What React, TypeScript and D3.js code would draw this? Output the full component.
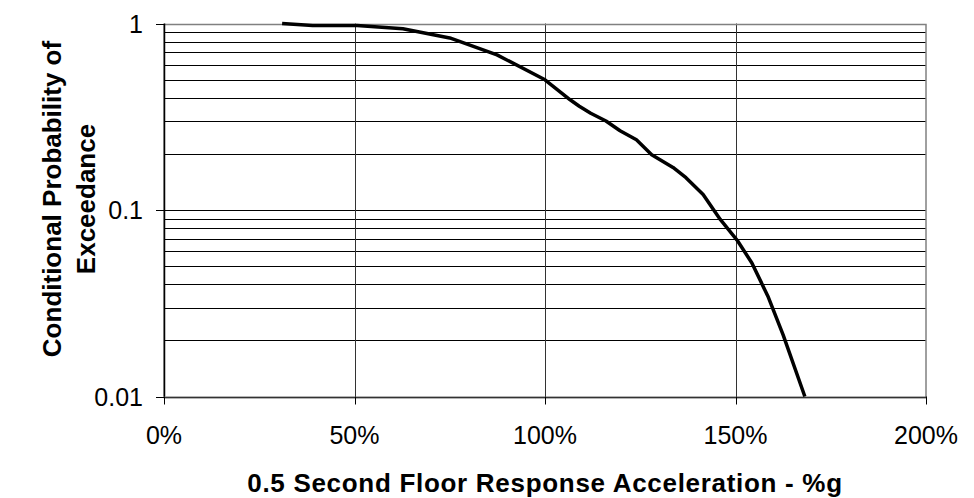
import React from "react";
import * as d3 from "d3";

const accelPct = [31, 39, 50.7, 62.7, 75, 87.4, 100, 106.6, 109, 112, 116, 119.7, 124, 128, 133.6, 137, 141.5, 146, 150.4, 154.3, 158.5, 162.5, 168.2];
const probExceed = [1.0, 0.976, 0.975, 0.938, 0.837, 0.679, 0.499, 0.39, 0.36, 0.33, 0.30, 0.266, 0.238, 0.198, 0.169, 0.149, 0.121, 0.089, 0.069, 0.052, 0.0345, 0.0214, 0.01];
const xTicks = [0, 50, 100, 150, 200];
const yTicks = [1, 0.1, 0.01];
const yTickLabels = ["1", "0.1", "0.01"];
const xTitle = "0.5 Second Floor Response Acceleration - %g";
const yTitleLines = ["Conditional Probability of", "Exceedance"];

const W = 974, H = 498;
const L = 164, R = 926, T = 23.5, B = 396.5;

export default function App() {
  const x = d3.scaleLinear().domain([0, 200]).range([L, R]);
  const y = d3.scaleLog().domain([0.01, 1]).range([B, T]);
  const minor: number[] = [];
  [0.01, 0.1].forEach((d) => {
    for (let k = 2; k <= 9; k++) minor.push(d * k);
  });
  const pts = accelPct.map((a, i) => [a, probExceed[i]] as [number, number]);
  const line = d3.line<[number, number]>().x((d) => x(d[0])).y((d) => y(d[1]));
  const font = "Liberation Sans, Arial, sans-serif";
  const r = (v: number) => Math.round(v) + 0.5;
  return (
    <svg width={W} height={H} style={{ position: "absolute", left: 0, top: 0, background: "#fff" }}>
      <rect x={0} y={0} width={W} height={H} fill="#fff" />
      {minor.map((m, i) => (
        <line key={"mi" + i} x1={L} x2={R} y1={r(y(m))} y2={r(y(m))} stroke="#000" strokeWidth={1} />
      ))}
      {yTicks.map((t, i) => (
        <line key={"my" + i} x1={L} x2={R} y1={r(y(t))} y2={r(y(t))} stroke="#000" strokeWidth={1} />
      ))}
      {xTicks.slice(1, -1).map((t, i) => (
        <line key={"gx" + i} x1={r(x(t))} x2={r(x(t))} y1={T} y2={B} stroke="#333" strokeWidth={1} />
      ))}
      <rect x={L} y={r(T)} width={R - L} height={B - T} fill="none" stroke="#808080" strokeWidth={1.5} />
      <line x1={r(L)} x2={r(L)} y1={T} y2={B} stroke="#000" strokeWidth={1.5} />
      <line x1={L} x2={R} y1={r(B)} y2={r(B)} stroke="#333" strokeWidth={1.5} />
      {yTicks.map((t, i) => (
        <line key={"ty" + i} x1={L - 8} x2={L} y1={r(y(t))} y2={r(y(t))} stroke="#000" />
      ))}
      {xTicks.map((t, i) => (
        <line key={"tx" + i} x1={r(x(t))} x2={r(x(t))} y1={B} y2={B + 8} stroke="#000" />
      ))}
      <path d={line(pts) || ""} fill="none" stroke="#000" strokeWidth={3.5} strokeLinejoin="round" />
      {yTicks.map((t, i) => (
        <text key={"ly" + i} x={L - 21} y={y(t) + 9} textAnchor="end" fontFamily={font} fontSize={25}>
          {yTickLabels[i]}
        </text>
      ))}
      {xTicks.map((t, i) => (
        <text key={"lx" + i} x={x(t)} y={444} textAnchor="middle" fontFamily={font} fontSize={25}>
          {t + "%"}
        </text>
      ))}
      <text x={545} y={492} textAnchor="middle" fontFamily={font} fontSize={26} fontWeight="bold" letterSpacing={0.7}>
        {xTitle}
      </text>
      <g transform="translate(68,199) rotate(-90)">
        {yTitleLines.map((s, i) => (
          <text key={"yt" + i} x={0} y={i === 0 ? -7 : 27} textAnchor="middle" fontFamily={font} fontSize={26} fontWeight="bold">
            {s}
          </text>
        ))}
      </g>
    </svg>
  );
}
